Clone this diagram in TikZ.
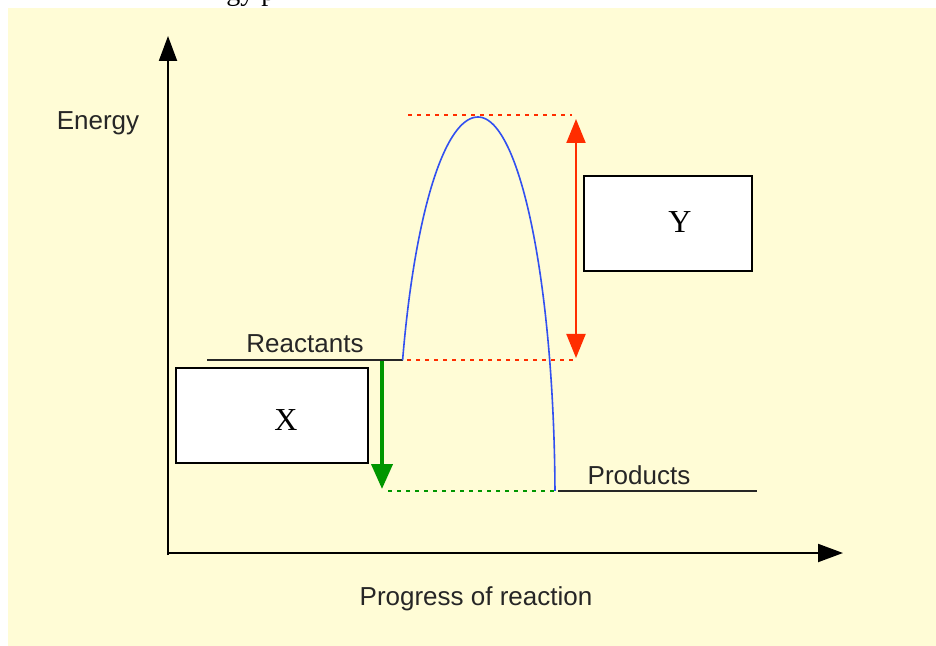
\documentclass[tikz,border=0pt]{standalone}
\usepackage{fontspec}
\setmainfont{Liberation Serif}
\setsansfont{Liberation Sans}
\usetikzlibrary{arrows.meta}
\definecolor{bg}{RGB}{255,252,214}
\definecolor{curveblue}{RGB}{50,80,240}
\definecolor{arrred}{RGB}{255,45,0}
\definecolor{arrgreen}{RGB}{0,150,0}
\begin{document}
\begin{tikzpicture}[x=0.5pt,y=-0.5pt,
  lab/.style={font=\sffamily\fontsize{13}{15}\selectfont, inner sep=0pt, text=black!85},
  letter/.style={font=\rmfamily\fontsize{16}{18}\selectfont, inner sep=0pt},
  answerbox/.style={draw=black, line width=1pt, fill=white, inner sep=0pt},
  axis/.style={line width=1pt, -{Triangle[length=12.5pt,width=9pt]}},
  level/.style={line width=0.8pt, black!85},
  curve/.style={line width=0.8pt, curveblue},
  reddash/.style={arrred, line width=0.8pt, dash pattern=on 2pt off 2.5pt},
  greendash/.style={arrgreen, line width=0.8pt, dash pattern=on 2pt off 2.5pt},
  redarrow/.style={arrred, line width=1pt, {Triangle[length=12pt,width=9.5pt]}-{Triangle[length=12pt,width=9.5pt]}},
  greenarrow/.style={arrgreen, line width=2pt, -{Triangle[length=12.5pt,width=10.5pt]}}
]
\useasboundingbox (0,0) rectangle (936,646);
\fill[bg] (8,8) rectangle (936,646);
% cut-off heading text at the top
\begin{scope}
  \clip (0,0) rectangle (936,8);
  \node[anchor=base west, font=\rmfamily\fontsize{14}{16}\selectfont, inner sep=0pt] (title) at (226,1) {gy p};
\end{scope}
% axes
\coordinate (origin) at (168,553);
\coordinate (ytip) at (168,36);
\coordinate (xtip) at (843,553);
\draw[axis] (168,555) -- (ytip);
\draw[axis] (origin) -- (xtip);
\node[lab, anchor=base] (energy) at (98,130) {Energy};
\node[lab, anchor=base] (progress) at (476,605) {Progress of reaction};
% levels
\coordinate (reactL) at (207,360);
\coordinate (reactR) at (402.6,360);
\coordinate (prodL) at (558,491);
\coordinate (prodR) at (757,491);
\draw[level] (reactL) -- (reactR);
\draw[level] (prodL) -- (prodR);
\node[lab, anchor=base] (reactants) at (305,352) {Reactants};
\node[lab, anchor=base] (products) at (639,484) {Products};
% energy curve
\draw[curve] plot[domain=21.4:90, samples=60, smooth] ({478-81*cos(\x)},{500-383*sin(\x)});
\draw[curve] plot[domain=90:178.65, samples=60, smooth] ({478-77*cos(\x)},{500-383*sin(\x)});
% dashed guide lines
\coordinate (peakL) at (408,115);
\coordinate (peakR) at (572,115);
\coordinate (baseL) at (407,360);
\coordinate (baseR) at (575,360);
\coordinate (gL) at (388,491);
\coordinate (gR) at (555,491);
\draw[reddash] (peakL) -- (peakR);
\draw[reddash] (baseL) -- (baseR);
\draw[greendash] (gL) -- (gR);
% arrows
\coordinate (yTop) at (576,119);
\coordinate (yBot) at (576,358);
\draw[redarrow] (yBot) -- (yTop);
\coordinate (gTop) at (382,361);
\coordinate (gBot) at (382,489);
\draw[greenarrow] (gTop) -- (gBot);
% answer boxes
\node[answerbox, minimum width=84pt, minimum height=47.5pt] (boxY) at (668,223.5) {};
\node[letter] (labY) at (680,222) {Y};
\node[answerbox, minimum width=96pt, minimum height=47.5pt] (boxX) at (272,415.5) {};
\node[letter] (labX) at (286,420) {X};
\end{tikzpicture}
\end{document}
